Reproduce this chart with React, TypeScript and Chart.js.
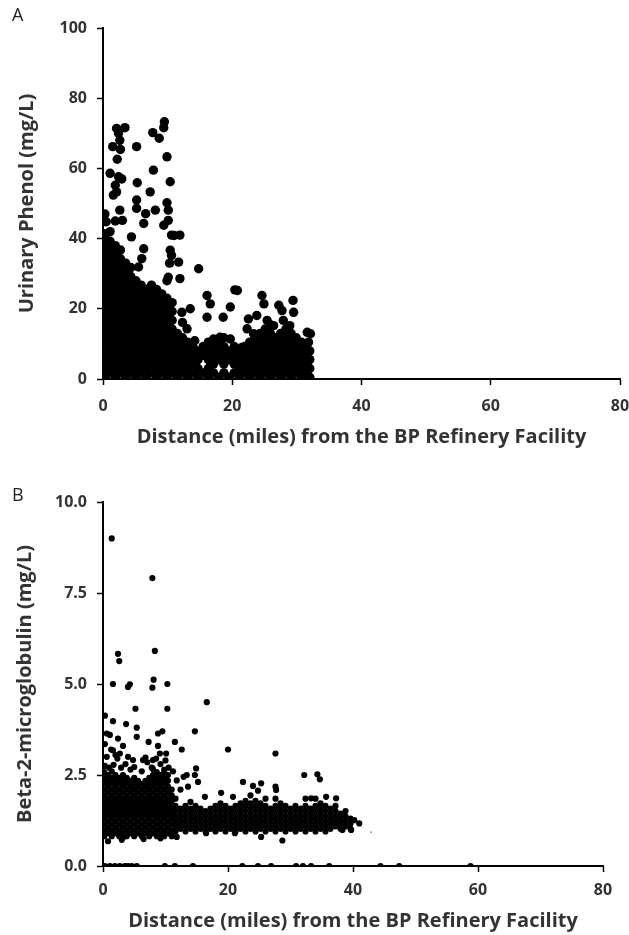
import React, { useEffect, useRef } from "react";
import { Chart, registerables } from "chart.js";

Chart.register(...registerables);

// ---------- Panel A: Urinary phenol vs distance ----------
const phenolXTicks = [0, 20, 40, 60, 80];
const phenolYTicks = [0, 20, 40, 60, 80, 100];

// dense cloud, read column by column: [distance, phenol values...]
const phenolDense: [number, number[]][] = [
  [0.3, [0.5, 3, 5.5, 8, 10.5, 13, 15.5, 18, 20.5, 23, 25.5, 28, 30.5, 33, 35.5, 38, 40.5]],
  [1.1, [1.75, 4.25, 6.75, 9.25, 11.75, 14.25, 16.75, 19.25, 21.75, 24.25, 26.75, 29.25, 31.75, 34.25, 36.75, 39.25]],
  [1.9, [0.5, 3, 5.5, 8, 10.5, 13, 15.5, 18, 20.5, 23, 25.5, 28, 30.5, 33, 35.5, 38]],
  [2.7, [1.75, 4.25, 6.75, 9.25, 11.75, 14.25, 16.75, 19.25, 21.75, 24.25, 26.75, 29.25, 31.75, 34.25, 36.75]],
  [3.5, [0.5, 3, 5.5, 8, 10.5, 13, 15.5, 18, 20.5, 23, 25.5, 28, 30.5, 33]],
  [4.3, [1.75, 4.25, 6.75, 9.25, 11.75, 14.25, 16.75, 19.25, 21.75, 24.25, 26.75, 29.25, 31.75]],
  [5.1, [0.5, 3, 5.5, 8, 10.5, 13, 15.5, 18, 20.5, 23, 25.5, 28]],
  [5.9, [1.75, 4.25, 6.75, 9.25, 11.75, 14.25, 16.75, 19.25, 21.75, 24.25, 26.75]],
  [6.7, [0.5, 3, 5.5, 8, 10.5, 13, 15.5, 18, 20.5, 23, 25.5]],
  [7.5, [1.75, 4.25, 6.75, 9.25, 11.75, 14.25, 16.75, 19.25, 21.75, 24.25, 26.75]],
  [8.3, [0.5, 3, 5.5, 8, 10.5, 13, 15.5, 18, 20.5, 23, 25.5]],
  [9.1, [1.75, 4.25, 6.75, 9.25, 11.75, 14.25, 16.75, 19.25, 21.75, 24.25]],
  [9.9, [0.5, 3, 5.5, 8, 10.5, 13, 15.5, 18, 20.5, 23]],
  [10.7, [1.75, 4.25, 6.75, 9.25, 11.75, 14.25, 16.75, 19.25, 21.75]],
  [11.5, [0.5, 3, 5.5, 8, 10.5, 13]],
  [12.3, [1.75, 4.25, 6.75, 9.25, 11.75]],
  [13.1, [0.5, 3, 5.5, 8, 10.5]],
  [13.9, [1.75, 4.25, 6.75, 9.25]],
  [14.7, [0.5, 3, 5.5, 8]],
  [15.5, [1.75, 6.75, 9.25]],
  [16.3, [0.5, 3, 5.5, 8, 10.5]],
  [17.1, [1.75, 4.25, 6.75, 9.25]],
  [17.9, [0.5, 5.5, 8, 10.5]],
  [18.7, [1.75, 4.25, 6.75, 9.25, 11.75]],
  [19.5, [0.5, 5.5, 8]],
  [20.3, [1.75, 4.25, 6.75, 9.25]],
  [21.1, [0.5, 3, 5.5, 8]],
  [21.9, [1.75, 4.25, 6.75, 9.25]],
  [22.7, [0.5, 3, 5.5, 8, 10.5]],
  [23.5, [1.75, 4.25, 6.75, 9.25, 11.75]],
  [24.3, [0.5, 3, 5.5, 8, 10.5, 13]],
  [25.1, [1.75, 4.25, 6.75, 9.25, 11.75, 14.25]],
  [25.9, [0.5, 3, 5.5, 8, 10.5, 13, 15.5]],
  [26.7, [1.75, 4.25, 6.75, 9.25, 11.75]],
  [27.5, [0.5, 3, 5.5, 8, 10.5, 13]],
  [28.3, [1.75, 4.25, 6.75, 9.25, 11.75, 14.25]],
  [29.1, [0.5, 3, 5.5, 8, 10.5, 13]],
  [29.9, [1.75, 4.25, 6.75, 9.25, 11.75]],
  [30.7, [0.5, 3, 5.5, 8, 10.5]],
  [31.5, [1.75, 4.25, 6.75, 9.25]],
  [32.0, [0.5, 3, 5.5, 8]],
];

// sparse high values: [distance, phenol]
const phenolOutliers: [number, number][] = [
  [2.1, 71.4], [3.4, 71.6], [2.4, 70], [1.5, 66.2], [2.6, 68], [2.7, 65.4], [2.2, 62.6],
  [1.1, 58.6], [2.4, 57.6], [2.9, 57], [1.9, 55.2], [1.6, 52.4], [2.1, 53.3], [5.2, 66.2],
  [7.7, 70.2], [8.7, 68.6], [9.5, 73.3], [9.4, 71.6], [9.9, 63.3], [7.8, 59.5], [5.3, 55.9],
  [10.4, 56.2], [7.3, 53.3], [9.9, 50.2], [5.2, 48.6], [8.1, 48.1], [5.2, 51], [6.6, 47.1],
  [10.1, 48.1], [10.1, 45.2], [9.4, 43.8], [6.3, 44.3], [2.6, 48.1], [3.0, 45.2], [4.4, 40.5],
  [6.3, 37.1], [10.4, 36.7], [10.6, 35.2], [10.6, 41], [11.9, 41], [11.0, 40.9], [11.7, 33.3],
  [11.9, 28.6], [10.1, 29], [9.9, 28], [10.3, 33], [14.8, 31.4], [5.5, 31.9], [6.0, 34.3],
  [12.2, 19], [13.5, 20], [13.0, 14.3], [12.3, 16.1], [14.2, 10.9], [16.1, 23.8], [16.6, 21.4],
  [16.1, 17.6], [17.1, 11.4], [18.6, 17.6], [19.7, 20.5], [20.4, 25.4], [20.8, 25.2],
  [18.1, 11.9], [19.7, 11.4], [22.5, 17.1], [24.6, 23.8], [24.9, 21.4], [23.8, 18.1],
  [22.3, 14.3], [27.2, 21], [27.7, 19.5], [29.4, 22.4], [29.5, 19], [28.9, 15.2],
  [31.6, 13.3], [32.1, 12.9], [31.8, 10.5], [25.4, 16.7], [26.4, 15.2], [27.9, 16.7],
  [23.3, 12.9], [21.5, 9], [20.5, 7.1], [0.3, 47], [0.5, 44.8], [0.2, 41.4], [0.8, 38.6],
  [0.3, 33.8], [0.6, 31.9], [1.9, 45], [1.1, 42],
];

// ---------- Panel B: Beta-2-microglobulin vs distance ----------
const b2mXTicks = [0, 20, 40, 60, 80];
const b2mYTicks = [0, 2.5, 5, 7.5, 10];
const b2mYTickLabels = ["0.0", "2.5", "5.0", "7.5", "10.0"];

const b2mDense: [number, number[]][] = [
  [0.2, [0.82, 0.98, 1.14, 1.3, 1.46, 1.62, 1.78, 1.94, 2.1, 2.26, 2.42, 2.58]],
  [0.8, [0.9, 1.06, 1.22, 1.38, 1.54, 1.7, 1.86, 2.02, 2.18, 2.34, 2.5]],
  [1.4, [0.82, 0.98, 1.14, 1.3, 1.46, 1.62, 1.78, 1.94, 2.1, 2.26, 2.42, 2.6]],
  [2.0, [0.9, 1.06, 1.22, 1.38, 1.54, 1.7, 1.86, 2.02, 2.18, 2.34, 2.5]],
  [2.6, [0.82, 0.98, 1.14, 1.3, 1.46, 1.62, 1.78, 1.94, 2.1, 2.26, 2.42]],
  [3.2, [0.78, 0.9, 1.06, 1.22, 1.38, 1.54, 1.7, 1.86, 2.02, 2.18, 2.34, 2.5]],
  [3.8, [0.82, 0.98, 1.14, 1.3, 1.46, 1.62, 1.78, 1.94, 2.1, 2.26, 2.42]],
  [4.4, [0.9, 1.06, 1.22, 1.38, 1.54, 1.7, 1.86, 2.02, 2.18, 2.34]],
  [5.0, [0.82, 0.98, 1.14, 1.3, 1.46, 1.62, 1.78, 1.94, 2.1, 2.26, 2.42]],
  [5.6, [0.9, 1.06, 1.22, 1.38, 1.54, 1.7, 1.86, 2.02, 2.18, 2.34]],
  [6.2, [0.82, 0.98, 1.14, 1.3, 1.46, 1.62, 1.78, 1.94, 2.1, 2.26]],
  [6.8, [0.9, 1.06, 1.22, 1.38, 1.54, 1.7, 1.86, 2.02, 2.18, 2.34]],
  [7.4, [0.82, 0.98, 1.14, 1.3, 1.46, 1.62, 1.78, 1.94, 2.1, 2.26, 2.42]],
  [8.0, [0.9, 1.06, 1.22, 1.38, 1.54, 1.7, 1.86, 2.02, 2.18, 2.34, 2.5, 2.66]],
  [8.6, [0.82, 0.98, 1.14, 1.3, 1.46, 1.62, 1.78, 1.94, 2.1, 2.26, 2.42, 2.58]],
  [9.2, [0.9, 1.06, 1.22, 1.38, 1.54, 1.7, 1.86, 2.02, 2.18, 2.34, 2.5]],
  [9.8, [0.82, 0.98, 1.14, 1.3, 1.46, 1.62, 1.78, 1.94, 2.1, 2.26, 2.42, 2.58]],
  [10.4, [0.9, 1.06, 1.22, 1.38, 1.54, 1.7, 1.86, 2.02, 2.18, 2.34, 2.5]],
  [11.0, [0.82, 0.98, 1.14, 1.3, 1.46, 1.62, 1.78, 1.94, 2.1]],
];

const b2mBand: [number, number[]][] = [
  [11.6, [0.95, 1.09, 1.23, 1.37, 1.51, 1.65, 1.85]],
  [12.4, [1.02, 1.16, 1.3, 1.44, 1.58]],
  [13.2, [0.95, 1.09, 1.23, 1.37, 1.51, 1.65]],
  [14.0, [1.02, 1.16, 1.3, 1.44, 1.58, 1.76]],
  [14.8, [0.95, 1.09, 1.23, 1.37, 1.51, 1.65]],
  [15.6, [1.02, 1.16, 1.3, 1.44, 1.58]],
  [16.4, [0.95, 1.09, 1.23, 1.37, 1.51]],
  [17.2, [1.02, 1.16, 1.3, 1.44, 1.58]],
  [18.0, [0.95, 1.09, 1.23, 1.37, 1.51, 1.65]],
  [18.8, [1.02, 1.16, 1.3, 1.44, 1.58, 1.72]],
  [19.6, [0.95, 1.09, 1.23, 1.37, 1.51, 1.65]],
  [20.4, [1.02, 1.16, 1.3, 1.44, 1.58]],
  [21.2, [0.95, 1.09, 1.23, 1.37, 1.51, 1.65]],
  [22.0, [1.02, 1.16, 1.3, 1.44, 1.58, 1.72]],
  [22.8, [0.95, 1.09, 1.23, 1.37, 1.51, 1.65, 1.79]],
  [23.6, [1.02, 1.16, 1.3, 1.44, 1.58, 1.72, 1.94]],
  [24.4, [0.95, 1.09, 1.23, 1.37, 1.51, 1.65, 1.79]],
  [25.2, [1.02, 1.16, 1.3, 1.44, 1.58, 1.72]],
  [26.0, [0.95, 1.09, 1.23, 1.37, 1.51, 1.65, 1.85]],
  [26.8, [1.02, 1.16, 1.3, 1.44, 1.58]],
  [27.6, [0.95, 1.09, 1.23, 1.37, 1.51, 1.65, 1.85]],
  [28.4, [1.02, 1.16, 1.3, 1.44, 1.58, 1.72]],
  [29.2, [0.95, 1.09, 1.23, 1.37, 1.51, 1.65]],
  [30.0, [1.02, 1.16, 1.3, 1.44, 1.58]],
  [30.8, [0.95, 1.09, 1.23, 1.37, 1.51, 1.65]],
  [31.6, [1.02, 1.16, 1.3, 1.44, 1.58]],
  [32.4, [0.95, 1.09, 1.23, 1.37, 1.51, 1.65, 1.85]],
  [33.2, [1.02, 1.16, 1.3, 1.44, 1.58]],
  [34.0, [0.95, 1.09, 1.23, 1.37, 1.51, 1.65, 1.85]],
  [34.8, [1.02, 1.16, 1.3, 1.44, 1.58, 1.72]],
  [35.6, [0.95, 1.09, 1.23, 1.37, 1.51, 1.65]],
  [36.4, [1.02, 1.16, 1.3, 1.44, 1.58]],
  [37.2, [1.09, 1.23, 1.37, 1.51, 1.65]],
  [38.0, [1.02, 1.16, 1.3, 1.44]],
  [38.8, [1.09, 1.23, 1.37, 1.51]],
  [39.6, [1.02, 1.16, 1.3]],
];

const b2mOutliers: [number, number][] = [
  [1.4, 9.0], [7.9, 7.91], [8.3, 5.91], [2.4, 5.83], [2.6, 5.63], [1.6, 5.0], [4.0, 4.92],
  [4.3, 4.99], [8.1, 5.12], [7.9, 4.9], [10.3, 5.0], [16.6, 4.5], [5.2, 4.32], [10.3, 4.32],
  [0.3, 4.13], [1.6, 3.98], [3.7, 3.9], [5.4, 3.8], [14.7, 3.7], [9.5, 3.7], [8.8, 3.64],
  [20.0, 3.2], [27.6, 3.09], [12.6, 3.2], [11.5, 3.41], [7.3, 3.41], [0.6, 3.64], [1.1, 3.6],
  [2.4, 3.5], [0.3, 3.35], [1.6, 3.18], [2.7, 3.09], [5.4, 3.55], [4.8, 2.91], [6.4, 2.91],
  [8.0, 2.91], [9.1, 3.09], [10.1, 3.09], [14.9, 2.68], [14.7, 2.5], [13.4, 2.5], [13.6, 2.18],
  [15.2, 2.31], [22.4, 2.31], [18.9, 2.01], [24.0, 2.2], [25.3, 2.27], [24.8, 2.07],
  [27.6, 2.18], [27.7, 2.09], [32.2, 2.5], [34.3, 2.52], [34.7, 2.38], [16.3, 1.9], [20.8, 1.9],
  [33.3, 1.86], [35.7, 1.9], [37.3, 1.86], [40.2, 1.26], [41.0, 1.17], [39.7, 0.99],
  [38.3, 0.99], [21.1, 0.9], [25.3, 0.8], [28.7, 0.7], [16.5, 0.9], [11.8, 0.8],
  [0.3, 2.75], [1.0, 2.7], [1.7, 2.78], [2.3, 2.95], [2.9, 2.7], [3.6, 2.8], [4.4, 2.65],
  [5.0, 2.72], [6.2, 2.6], [7.1, 2.85], [7.8, 2.7], [8.5, 2.95], [9.2, 2.8], [9.8, 2.65],
  [10.5, 2.7], [11.2, 2.6], [0.6, 3.0], [1.3, 3.2], [2.0, 3.05], [3.2, 3.3], [4.0, 3.0],
  [6.8, 2.98], [8.8, 3.3], [10.0, 2.9], [11.8, 2.35], [12.4, 2.1], [12.9, 2.45],
  [0.8, 0.68], [3.0, 0.72], [6.5, 0.74], [9.2, 0.76],
];

// samples at 0.0 mg/L along the axis
const b2mZeros: number[] = [
  0.3, 1.1, 1.9, 2.7, 3.5, 4.0, 4.6, 5.4, 9.9, 11.5, 14.4, 22.3, 24.8, 26.9, 30.9, 32.0,
  33.3, 36.2, 44.4, 47.4, 58.8,
];

// faint isolated sample to the right of the band
const b2mFaint: [number, number][] = [[42.9, 0.93]];

// ---------- helpers ----------
const fromColumns = (cols: [number, number[]][]) =>
  cols.flatMap(([x, ys]) => ys.map((y) => ({ x, y })));
const fromPairs = (p: [number, number][]) => p.map(([x, y]) => ({ x, y }));

const FONT = "'Open Sans', 'DejaVu Sans', sans-serif";
const TEXT = "#333333";
const X_TITLE = "Distance (miles) from the BP Refinery Facility";

type PanelProps = {
  height: number;
  datasets: any[];
  xTicks: number[];
  yTicks: number[];
  yLabel: (v: number, i: number) => string;
  yMax: number;
  yTitle: string;
  padTop: number;
  padRight: number;
  xAxisHeight: number;
  yTitlePad: number;
  xTickPad: number;
  xTitlePad: number;
};

function Panel(p: PanelProps) {
  const ref = useRef<HTMLCanvasElement | null>(null);
  useEffect(() => {
    if (!ref.current) return;
    const tickFont = { family: FONT, size: 16, weight: "bold" as const };
    const titleFont = { family: FONT, size: 20, weight: "bold" as const };
    const chart = new Chart(ref.current, {
      type: "scatter",
      data: { datasets: p.datasets },
      options: {
        animation: false,
        responsive: false,
        devicePixelRatio: 1,
        layout: { padding: { top: p.padTop, right: p.padRight, left: 0, bottom: 0 } },
        plugins: { legend: { display: false }, tooltip: { enabled: false } },
        scales: {
          x: {
            type: "linear",
            min: 0,
            max: 80,
            afterBuildTicks: (s: any) => {
              s.ticks = p.xTicks.map((v) => ({ value: v }));
            },
            afterFit: (s: any) => {
              s.height = p.xAxisHeight;
              s.paddingLeft = 0;
              s.paddingRight = 0;
            },
            grid: {
              drawOnChartArea: false,
              drawTicks: true,
              tickLength: 6,
              tickColor: "#000",
              tickWidth: 1.5,
            },
            border: { color: "#000", width: 2 },
            ticks: {
              color: TEXT,
              font: tickFont,
              padding: p.xTickPad,
              maxRotation: 0,
              callback: (v: any) => String(v),
            },
            title: {
              display: true,
              text: X_TITLE,
              color: TEXT,
              font: titleFont,
              padding: { top: 0, bottom: p.xTitlePad },
            },
          },
          y: {
            type: "linear",
            min: 0,
            max: p.yMax,
            afterBuildTicks: (s: any) => {
              s.ticks = p.yTicks.map((v) => ({ value: v }));
            },
            afterFit: (s: any) => {
              s.width = 103;
            },
            grid: {
              drawOnChartArea: false,
              drawTicks: true,
              tickLength: 6,
              tickColor: "#000",
              tickWidth: 1.5,
            },
            border: { color: "#000", width: 2 },
            ticks: {
              color: TEXT,
              font: tickFont,
              padding: 10,
              callback: (v: any, i: number) => p.yLabel(Number(v), i),
            },
            title: {
              display: true,
              text: p.yTitle,
              color: TEXT,
              font: titleFont,
              padding: { top: p.yTitlePad, bottom: 0 },
            },
          },
        },
      },
    });
    return () => chart.destroy();
  }, []);
  return (
    <canvas
      ref={ref}
      width={629}
      height={p.height}
      style={{ display: "block", width: 629, height: p.height }}
    />
  );
}

const letterStyle: React.CSSProperties = {
  position: "absolute",
  left: 12,
  fontFamily: "'Open Sans', sans-serif",
  fontSize: 18,
  color: "#222",
  lineHeight: "20px",
};

export default function App() {
  useEffect(() => {
    document.body.style.margin = "0";
  }, []);

  const dsA = [
    {
      data: [...fromColumns(phenolDense), ...fromPairs(phenolOutliers)],
      backgroundColor: "#000",
      borderWidth: 0,
      pointRadius: 4.7,
    },
  ];

  const dsB = [
    {
      data: [
        ...fromColumns(b2mDense),
        ...fromColumns(b2mBand),
        ...fromPairs(b2mOutliers),
        ...b2mZeros.map((x) => ({ x, y: 0 })),
      ],
      backgroundColor: "#000",
      borderWidth: 0,
      pointRadius: 3.1,
    },
    {
      data: fromPairs(b2mFaint),
      backgroundColor: "#999",
      borderWidth: 0,
      pointRadius: 1,
    },
  ];

  return (
    <div style={{ position: "relative", width: 629, height: 935, background: "#fff" }}>
      <Panel
        height={450}
        datasets={dsA}
        xTicks={phenolXTicks}
        yTicks={phenolYTicks}
        yLabel={(v) => String(v)}
        yMax={100}
        yTitle="Urinary Phenol (mg/L)"
        padTop={28}
        padRight={9}
        xAxisHeight={71}
        yTitlePad={15}
        xTickPad={12}
        xTitlePad={1}
      />
      <Panel
        height={485}
        datasets={dsB}
        xTicks={b2mXTicks}
        yTicks={b2mYTicks}
        yLabel={(v, i) => b2mYTickLabels[i]}
        yMax={10}
        yTitle="Beta-2-microglobulin (mg/L)"
        padTop={52}
        padRight={26}
        xAxisHeight={69}
        yTitlePad={13}
        xTickPad={9}
        xTitlePad={2}
      />
      <div style={{ ...letterStyle, top: 4 }}>A</div>
      <div style={{ ...letterStyle, top: 484 }}>B</div>
    </div>
  );
}
